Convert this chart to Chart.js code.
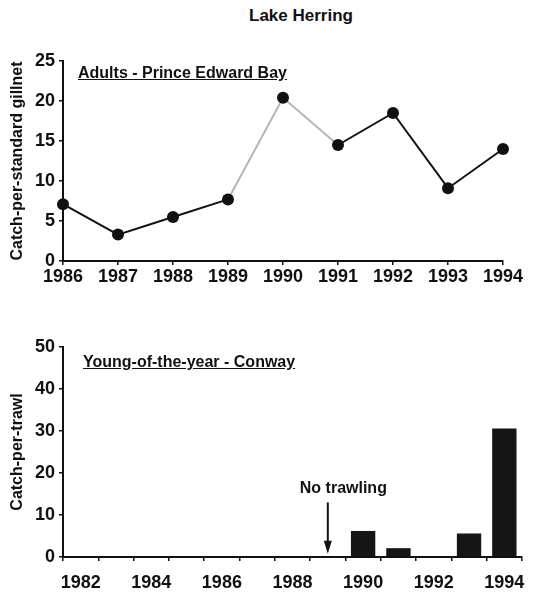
<!DOCTYPE html>
<html>
<head>
<meta charset="utf-8">
<script src="https://cdn.jsdelivr.net/npm/chart.js@4"></script>
<style>
  body { margin: 0; background: #fff; width: 553px; height: 594px; position: relative; overflow: hidden;
         font-family: "Liberation Sans", Arial, sans-serif; color: #111; }
  canvas { position: absolute; left: 0; }
  #title { position: absolute; top: 6px; left: 201px; width: 200px; text-align: center; font-weight: bold; font-size: 17px; }
  .sub { position: absolute; font-weight: bold; font-size: 16px; line-height: 18px; text-decoration: underline; }
</style>
</head>
<body>
<div id="title">Lake Herring</div>
<canvas id="adults" width="553" height="270" style="top:30px"></canvas>
<canvas id="yoy" width="553" height="294" style="top:300px"></canvas>
<div class="sub" style="left:78px;top:64px">Adults - Prince Edward Bay</div>
<div class="sub" style="left:83px;top:353px">Young-of-the-year - Conway</div>
<script>
// Adults - Prince Edward Bay (catch per standard gillnet)
const adultYears = ['1986', '1987', '1988', '1989', '1990', '1991', '1992', '1993', '1994'];
const adultCatch = [7.1, 3.3, 5.5, 7.7, 20.4, 14.5, 18.5, 9.1, 14.0];

// Young-of-the-year - Conway (catch per trawl), no trawling in 1989
const yoyYears = ['1982', '1983', '1984', '1985', '1986', '1987', '1988', '1989', '1990', '1991', '1992', '1993', '1994'];
const yoyCatch = [0, 0, 0, 0, 0, 0, 0, null, 6.2, 2.1, 0, 5.6, 30.6];
const noTrawlYear = '1989';

const INK = '#111';
const tickFont = { family: '"Liberation Sans", Arial, sans-serif', size: 18, weight: 'bold' };
const titleFont = { family: '"Liberation Sans", Arial, sans-serif', size: 16, weight: 'bold' };

// faded segments in the scan (1989-1991)
function segColor(c) {
    return (c.p0DataIndex === 3 || c.p0DataIndex === 4) ? '#b5b5b5' : INK;
}

new Chart(document.getElementById('adults'), {
    type: 'line',
    data: {
        labels: adultYears,
        datasets: [{
            data: adultCatch,
            borderColor: INK,
            borderWidth: 2,
            pointRadius: 6,
            pointBackgroundColor: INK,
            pointBorderWidth: 0,
            clip: false,
            segment: { borderColor: segColor }
        }]
    },
    options: {
        responsive: false,
        animation: false,
        layout: { padding: { top: 31, right: 50, left: 0, bottom: 0 } },
        plugins: { legend: { display: false }, tooltip: { enabled: false } },
        scales: {
            x: {
                offset: false,
                grid: { drawOnChartArea: false, drawTicks: true, tickLength: 4, color: INK, lineWidth: 1.5 },
                border: { color: INK, width: 2 },
                ticks: { color: INK, font: tickFont, padding: 1, maxRotation: 0, autoSkip: false },
                afterFit: s => { s.height = 39; }
            },
            y: {
                min: 0,
                max: 25,
                grid: { drawOnChartArea: false, drawTicks: true, tickLength: 4, color: INK, lineWidth: 1.5 },
                border: { color: INK, width: 2 },
                ticks: { stepSize: 5, color: INK, font: tickFont, padding: 4 },
                title: { display: true, text: 'Catch-per-standard gillnet', color: INK, font: titleFont, padding: { top: 8, bottom: 0 } },
                afterFit: s => { s.width = 63; }
            }
        }
    }
});

const noTrawlNote = {
    id: 'noTrawlNote',
    afterDatasetsDraw(chart) {
        const { ctx, scales } = chart;
        const x = scales.x.getPixelForValue(yoyYears.indexOf(noTrawlYear));
        const yTop = scales.y.getPixelForValue(13);
        const yTip = scales.y.getPixelForValue(0.8);
        ctx.save();
        ctx.strokeStyle = INK;
        ctx.fillStyle = INK;
        ctx.lineWidth = 2;
        ctx.beginPath();
        ctx.moveTo(x, yTop);
        ctx.lineTo(x, yTip - 8);
        ctx.stroke();
        ctx.beginPath();
        ctx.moveTo(x - 4, yTip - 13);
        ctx.lineTo(x + 4, yTip - 13);
        ctx.lineTo(x, yTip);
        ctx.closePath();
        ctx.fill();
        ctx.font = 'bold 16px "Liberation Sans", Arial, sans-serif';
        ctx.textAlign = 'left';
        ctx.textBaseline = 'middle';
        ctx.fillText('No trawling', x - 28, scales.y.getPixelForValue(16.4));
        ctx.restore();
    }
};

new Chart(document.getElementById('yoy'), {
    type: 'bar',
    data: {
        labels: yoyYears,
        datasets: [{
            data: yoyCatch,
            backgroundColor: '#151515',
            barPercentage: 0.69,
            categoryPercentage: 1
        }]
    },
    options: {
        responsive: false,
        animation: false,
        layout: { padding: { top: 47, right: 31, left: 0, bottom: 0 } },
        plugins: { legend: { display: false }, tooltip: { enabled: false } },
        scales: {
            x: {
                grid: { drawOnChartArea: false, drawTicks: true, tickLength: 4, color: INK, lineWidth: 1.5 },
                border: { color: INK, width: 2 },
                ticks: {
                    color: INK, font: tickFont, padding: 11, maxRotation: 0, autoSkip: false,
                    callback: (v, i) => (Number(yoyYears[i]) % 2 === 0 ? yoyYears[i] : '')
                },
                afterFit: s => { s.height = 37; }
            },
            y: {
                min: 0,
                max: 50,
                grid: { drawOnChartArea: false, drawTicks: true, tickLength: 4, color: INK, lineWidth: 1.5 },
                border: { color: INK, width: 2 },
                ticks: { stepSize: 10, color: INK, font: tickFont, padding: 4 },
                title: { display: true, text: 'Catch-per-trawl', color: INK, font: titleFont, padding: { top: 8, bottom: 0 } },
                afterFit: s => { s.width = 63; }
            }
        }
    },
    plugins: [noTrawlNote]
});
</script>
</body>
</html>
